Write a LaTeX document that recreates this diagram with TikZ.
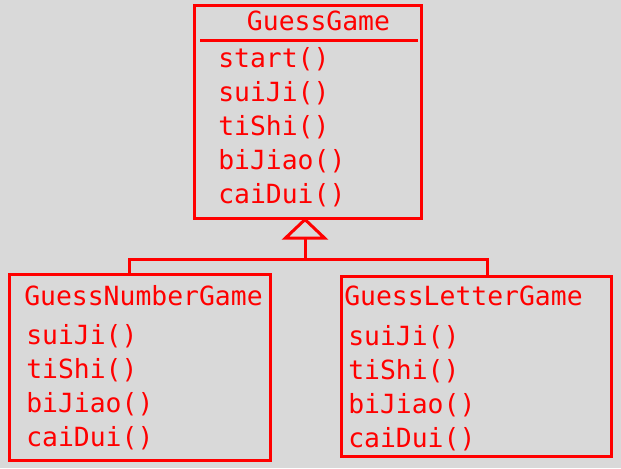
\documentclass[tikz,border=0pt]{standalone}
\usepackage{fontspec}
\setmonofont{DejaVu Sans Mono}
\usetikzlibrary{positioning, calc}
\definecolor{cBack}{RGB}{217, 217, 217}
\definecolor{bClass}{RGB}{255, 0, 0}

\begin{document}
\begin{tikzpicture}[
    x=0.75pt, y=-0.75pt,
    font=\ttfamily\fontsize{19.8}{25.5}\selectfont,
    classbox/.style={
        draw=bClass,
        line width=2.25pt,
        inner sep=0pt,
        minimum width=#1
    },
    label/.style={text=bClass, inner sep=0pt, align=left},
    umlline/.style={draw=bClass, line width=2.25pt}
]

\fill[cBack] (0, 0) rectangle (621, 468);
\useasboundingbox (0, 0) rectangle (621, 468);

% Super class
\node[classbox=170.6pt, minimum height=159.2pt] (game) at (308, 111.9) {};
\node[label, anchor=base] (gametitle) at (318.5, 30) {GuessGame};
\draw[umlline] ([shift={(7.5, 36.6)}]game.north west) -- ([shift={(-5, 36.6)}]game.north east);
\node[label, anchor=base west] (gameops) at (218, 203) {
    start()\\
    suiJi()\\
    tiShi()\\
    biJiao()\\
    caiDui()
};

% Sub classes
\node[classbox=195.75pt, minimum height=139.5pt] (numgame) at (139.5, 367.5) {};
\node[label, anchor=base west] (numtitle) at (24, 305) {GuessNumberGame};
\node[label, anchor=base west] (numops) at (26, 446) {
    suiJi()\\
    tiShi()\\
    biJiao()\\
    caiDui()
};

\node[classbox=202.9pt, minimum height=135.1pt] (letgame) at (476.3, 366.6) {};
\node[label, anchor=base west] (lettitle) at (344, 305) {GuessLetterGame};
\node[label, anchor=base west] (letops) at (348, 447) {
    suiJi()\\
    tiShi()\\
    biJiao()\\
    caiDui()
};

% Generalization
\coordinate (tip) at (305, 219.5);
\coordinate (join) at (305, 259);
\coordinate (jl) at (129, 259);
\coordinate (jr) at (487, 259);

\draw[umlline] (tip) -- ++(-19.5, 18.5) coordinate (tl) -- ++(39, 0) -- cycle;
\draw[umlline] (join |- tl) -- (join);
\draw[umlline] (numgame.north -| jl) -- (jl) -- (jr) -- (letgame.north -| jr);

\end{tikzpicture}
\end{document}
